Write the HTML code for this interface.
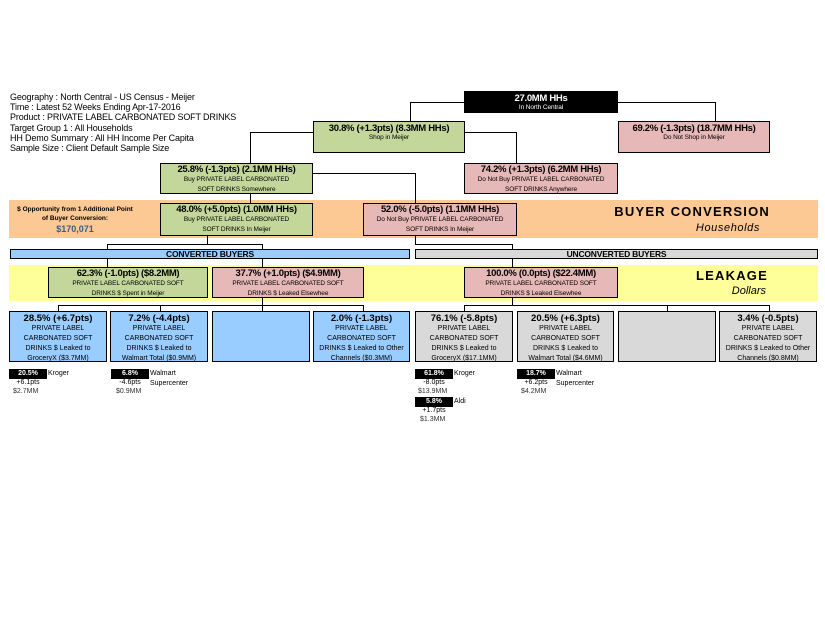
<!DOCTYPE html>
<html><head><meta charset="utf-8"><style>
body{margin:0;width:825px;height:638px;background:#fff;position:relative;overflow:hidden;font-family:"Liberation Sans",Arial,sans-serif;color:#000}
div{position:absolute;box-sizing:border-box}
.b{border:1px solid #000;text-align:center;line-height:1.1}
.g{background:#c4d79b}.p{background:#e6b8b7}.bl{background:#99ccff}.gr{background:#d9d9d9}
.h{font-size:9.5px;font-weight:bold;letter-spacing:-0.3px}
.s{font-size:6.5px;letter-spacing:-0.1px;line-height:10px}
.hl{background:#000;height:1px}.vl{background:#000;width:1px}
.bt{font-size:9.5px;font-weight:bold;line-height:11px}
.st{font-size:7px;line-height:10px;padding:0 9px}
.bb{background:#000;color:#fff;font-size:7px;font-weight:bold;text-align:center;height:10px;line-height:10px;width:38px}
.t{font-size:7px;line-height:9.5px}
</style></head><body>
<div style="left:10px;top:92px;font-size:9px;line-height:10.2px;letter-spacing:-0.15px">Geography : North Central - US Census - Meijer<br>Time : Latest 52 Weeks Ending Apr-17-2016<br>Product : PRIVATE LABEL CARBONATED SOFT DRINKS<br>Target Group 1 : All Households<br>HH Demo Summary : All HH Income Per Capita<br>Sample Size : Client Default Sample Size</div>

<div style="left:9px;top:200px;width:809px;height:38px;background:#fcc894"></div>
<div style="left:9px;top:265px;width:809px;height:36px;background:#ffff99"></div>

<div class="hl" style="left:410px;top:102px;width:55px"></div>
<div class="vl" style="left:410px;top:102px;height:19px"></div>
<div class="hl" style="left:618px;top:102px;width:97px"></div>
<div class="vl" style="left:715px;top:102px;height:19px"></div>
<div class="hl" style="left:250px;top:132px;width:63px"></div>
<div class="vl" style="left:250px;top:132px;height:31px"></div>
<div class="hl" style="left:465px;top:132px;width:52px"></div>
<div class="vl" style="left:516px;top:132px;height:31px"></div>
<div class="hl" style="left:313px;top:173px;width:103px"></div>
<div class="vl" style="left:415px;top:173px;height:30px"></div>
<div class="vl" style="left:250px;top:194px;height:9px"></div>
<div class="vl" style="left:207px;top:236px;height:9px"></div>
<div class="hl" style="left:107px;top:244px;width:156px"></div>
<div class="vl" style="left:107px;top:244px;height:24px"></div>
<div class="vl" style="left:262px;top:244px;height:24px"></div>
<div class="vl" style="left:415px;top:236px;height:9px"></div>
<div class="hl" style="left:415px;top:244px;width:98px"></div>
<div class="vl" style="left:512px;top:244px;height:24px"></div>
<div class="vl" style="left:262px;top:298px;height:8px"></div>
<div class="hl" style="left:58px;top:305px;width:306px"></div>
<div class="vl" style="left:58px;top:305px;height:6px"></div>
<div class="vl" style="left:160px;top:305px;height:6px"></div>
<div class="vl" style="left:262px;top:305px;height:6px"></div>
<div class="vl" style="left:363px;top:305px;height:6px"></div>
<div class="vl" style="left:512px;top:298px;height:8px"></div>
<div class="hl" style="left:464px;top:305px;width:306px"></div>
<div class="vl" style="left:464px;top:305px;height:6px"></div>
<div class="vl" style="left:667px;top:305px;height:6px"></div>
<div class="vl" style="left:769px;top:305px;height:6px"></div>

<div class="b" style="left:464px;top:91px;width:154px;height:22px;background:#000;color:#fff;padding-top:2px"><div class="h" style="position:static">27.0MM HHs</div><div class="s" style="position:static;line-height:7px">In North Central</div></div>
<div class="b g" style="left:313px;top:121px;width:152px;height:32px;padding-top:2px"><div class="h" style="position:static">30.8% (+1.3pts) (8.3MM HHs)</div><div class="s" style="position:static;line-height:8px">Shop in Meijer</div></div>
<div class="b p" style="left:618px;top:121px;width:152px;height:32px;padding-top:2px"><div class="h" style="position:static">69.2% (-1.3pts) (18.7MM HHs)</div><div class="s" style="position:static;line-height:8px">Do Not Shop in Meijer</div></div>
<div class="b g" style="left:160px;top:163px;width:153px;height:31px;padding:1px 14px 0"><div class="h" style="position:static">25.8% (-1.3pts) (2.1MM HHs)</div><div class="s" style="position:static">Buy PRIVATE LABEL CARBONATED SOFT DRINKS Somewhere</div></div>
<div class="b p" style="left:464px;top:163px;width:154px;height:31px;padding:1px 12px 0"><div class="h" style="position:static">74.2% (+1.3pts) (6.2MM HHs)</div><div class="s" style="position:static">Do Not Buy PRIVATE LABEL CARBONATED SOFT DRINKS Anywhere</div></div>
<div class="b g" style="left:160px;top:203px;width:153px;height:33px;padding:1px 14px 0"><div class="h" style="position:static">48.0% (+5.0pts) (1.0MM HHs)</div><div class="s" style="position:static">Buy PRIVATE LABEL CARBONATED SOFT DRINKS In Meijer</div></div>
<div class="b p" style="left:363px;top:203px;width:154px;height:33px;padding:1px 12px 0"><div class="h" style="position:static">52.0% (-5.0pts) (1.1MM HHs)</div><div class="s" style="position:static">Do Not Buy PRIVATE LABEL CARBONATED SOFT DRINKS In Meijer</div></div>

<div style="left:10px;top:205px;width:130px;text-align:center;font-size:6.5px;font-weight:bold;line-height:9px">$ Opportunity from 1 Additional Point<br>of Buyer Conversion:</div>
<div style="left:10px;top:224px;width:130px;text-align:center;font-size:9px;font-weight:bold;color:#3c5a8a">$170,071</div>
<div style="left:560px;top:204px;width:210px;text-align:right;font-size:13px;font-weight:bold;letter-spacing:1.2px">BUYER CONVERSION</div>
<div style="left:560px;top:222px;width:200px;text-align:right;font-size:11px;font-style:italic;letter-spacing:0.6px">Households</div>

<div class="b bl" style="left:10px;top:249px;width:400px;height:10px;font-size:8.5px;line-height:9px;font-weight:bold;letter-spacing:-0.2px">CONVERTED BUYERS</div>
<div class="b gr" style="left:415px;top:249px;width:403px;height:10px;font-size:8.5px;line-height:9px;font-weight:bold;letter-spacing:-0.2px">UNCONVERTED BUYERS</div>

<div class="b g" style="left:48px;top:267px;width:160px;height:31px;padding:1px 18px 0"><div class="h" style="position:static">62.3% (-1.0pts) ($8.2MM)</div><div class="s" style="position:static">PRIVATE LABEL CARBONATED SOFT DRINKS $ Spent in Meijer</div></div>
<div class="b p" style="left:212px;top:267px;width:152px;height:31px;padding:1px 14px 0"><div class="h" style="position:static">37.7% (+1.0pts) ($4.9MM)</div><div class="s" style="position:static">PRIVATE LABEL CARBONATED SOFT DRINKS $ Leaked Elsewhee</div></div>
<div class="b p" style="left:464px;top:267px;width:154px;height:31px;padding:1px 14px 0"><div class="h" style="position:static">100.0% (0.0pts) ($22.4MM)</div><div class="s" style="position:static">PRIVATE LABEL CARBONATED SOFT DRINKS $ Leaked Elsewhee</div></div>
<div style="left:640px;top:268px;width:128px;text-align:right;font-size:13px;font-weight:bold;letter-spacing:1.2px">LEAKAGE</div>
<div style="left:640px;top:285px;width:126px;text-align:right;font-size:11px;font-style:italic">Dollars</div>

<div class="b bl" style="left:9px;top:311px;width:98px;height:51px;padding-top:1px"><div class="bt" style="position:static">28.5% (+6.7pts)</div><div class="st" style="position:static">PRIVATE LABEL CARBONATED SOFT DRINKS $ Leaked to GroceryX ($3.7MM)</div></div>
<div class="b bl" style="left:110px;top:311px;width:98px;height:51px;padding-top:1px"><div class="bt" style="position:static">7.2% (-4.4pts)</div><div class="st" style="position:static;padding:0 6px">PRIVATE LABEL CARBONATED SOFT DRINKS $ Leaked to Walmart Total ($0.9MM)</div></div>
<div class="b bl" style="left:212px;top:311px;width:98px;height:51px"></div>
<div class="b bl" style="left:313px;top:311px;width:97px;height:51px;padding-top:1px"><div class="bt" style="position:static">2.0% (-1.3pts)</div><div class="st" style="position:static;padding:0 2px">PRIVATE LABEL<br>CARBONATED SOFT<br>DRINKS $ Leaked to Other Channels ($0.3MM)</div></div>
<div class="b gr" style="left:415px;top:311px;width:98px;height:51px;padding-top:1px"><div class="bt" style="position:static">76.1% (-5.8pts)</div><div class="st" style="position:static">PRIVATE LABEL CARBONATED SOFT DRINKS $ Leaked to GroceryX ($17.1MM)</div></div>
<div class="b gr" style="left:517px;top:311px;width:97px;height:51px;padding-top:1px"><div class="bt" style="position:static">20.5% (+6.3pts)</div><div class="st" style="position:static;padding:0 6px">PRIVATE LABEL CARBONATED SOFT DRINKS $ Leaked to Walmart Total ($4.6MM)</div></div>
<div class="b gr" style="left:618px;top:311px;width:98px;height:51px"></div>
<div class="b gr" style="left:719px;top:311px;width:98px;height:51px;padding-top:1px"><div class="bt" style="position:static">3.4% (-0.5pts)</div><div class="st" style="position:static;padding:0 2px">PRIVATE LABEL<br>CARBONATED SOFT<br>DRINKS $ Leaked to Other Channels ($0.8MM)</div></div>

<div class="bb" style="left:9px;top:369px">20.5%</div>
<div class="t" style="left:48px;top:369px">Kroger</div>
<div class="t" style="left:9px;top:378px;width:38px;text-align:center">+6.1pts</div>
<div class="t" style="left:13px;top:387px;color:#333">$2.7MM</div>

<div class="bb" style="left:111px;top:369px">6.8%</div>
<div class="t" style="left:150px;top:369px">Walmart<br>Supercenter</div>
<div class="t" style="left:111px;top:378px;width:38px;text-align:center">-4.6pts</div>
<div class="t" style="left:116px;top:387px;color:#333">$0.9MM</div>

<div class="bb" style="left:415px;top:369px">61.8%</div>
<div class="t" style="left:454px;top:369px">Kroger</div>
<div class="t" style="left:415px;top:378px;width:38px;text-align:center">-8.0pts</div>
<div class="t" style="left:418px;top:387px;color:#333">$13.9MM</div>
<div class="bb" style="left:415px;top:397px">5.8%</div>
<div class="t" style="left:454px;top:397px">Aldi</div>
<div class="t" style="left:415px;top:406px;width:38px;text-align:center">+1.7pts</div>
<div class="t" style="left:420px;top:415px;color:#333">$1.3MM</div>

<div class="bb" style="left:517px;top:369px">18.7%</div>
<div class="t" style="left:556px;top:369px">Walmart<br>Supercenter</div>
<div class="t" style="left:517px;top:378px;width:38px;text-align:center">+6.2pts</div>
<div class="t" style="left:521px;top:387px;color:#333">$4.2MM</div>
</body></html>
